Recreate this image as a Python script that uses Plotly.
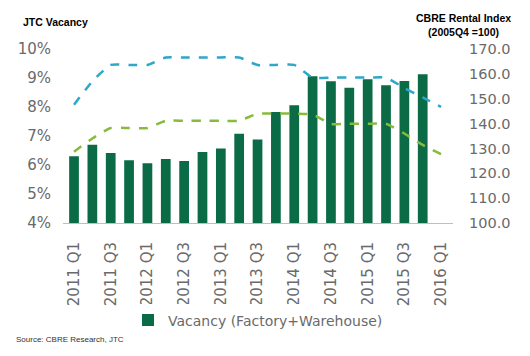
import plotly.graph_objects as go

quarters = ["2011 Q1","2011 Q2","2011 Q3","2011 Q4","2012 Q1","2012 Q2","2012 Q3","2012 Q4",
            "2013 Q1","2013 Q2","2013 Q3","2013 Q4","2014 Q1","2014 Q2","2014 Q3","2014 Q4",
            "2015 Q1","2015 Q2","2015 Q3","2015 Q4","2016 Q1"]
vacancy = [6.30, 6.70, 6.41, 6.16, 6.06, 6.21, 6.14, 6.45, 6.57, 7.08, 6.88,
           7.83, 8.06, 9.06, 8.89, 8.66, 8.96, 8.75, 8.90, 9.13]
rent_blue = [147.6, 157.0, 163.6, 163.6, 163.6, 166.6, 166.6, 166.6, 166.6, 166.6, 163.6,
             163.6, 163.6, 158.5, 158.5, 158.5, 158.5, 158.5, 154.3, 150.5, 146.7]
rent_green = [128.7, 134.0, 138.2, 138.2, 138.2, 141.1, 141.1, 141.1, 141.1, 141.1, 144.0,
              144.0, 144.0, 143.6, 139.9, 139.9, 139.9, 139.9, 136.0, 131.4, 127.7]

tick_idx = list(range(0, len(quarters), 2))
tick_text = [quarters[i] for i in tick_idx]
xi = list(range(len(quarters)))

FONT = "DejaVu Sans"
TFONT = "Liberation Sans"
GREY = "#6a6a6a"

# page body has an 8px default margin; size the figure to the visible area
O = 8
W, H = 530 - O, 356 - O
# plot area edges in window pixels
X0, X1, Y0, Y1 = 63, 453, 49, 222.7
L, R, T, B = X0 - O, W - (X1 - O), Y0 - O, H - (Y1 - O)
pw = W - L - R
ph = H - T - B
def px(x):
    return (x - X0) / pw
def py(y):
    return (Y1 - y) / ph

fig = go.Figure()
fig.add_trace(go.Bar(x=xi[:len(vacancy)], y=vacancy, name="Vacancy (Factory+Warehouse)",
                     marker=dict(color="#0b6b47", line=dict(width=0)), width=0.53))
fig.add_trace(go.Scatter(x=xi, y=rent_blue, yaxis="y2", mode="lines", showlegend=False,
                         line=dict(color="#2ea7c9", width=2.5, dash="dash", shape="spline", smoothing=0.5)))
fig.add_trace(go.Scatter(x=xi, y=rent_green, yaxis="y2", mode="lines", showlegend=False,
                         line=dict(color="#86bb3c", width=2.5, dash="dash", shape="spline", smoothing=0.5)))

fig.update_layout(
    width=W, height=H,
    margin=dict(l=L, r=R, t=T, b=B, autoexpand=False),
    paper_bgcolor="white", plot_bgcolor="white",
    font=dict(family=FONT, color=GREY),
    xaxis=dict(range=[-0.6, 20.65], tickmode="array", tickvals=tick_idx, ticktext=tick_text,
               tickangle=-90, tickfont=dict(size=15, color=GREY), showgrid=False,
               showline=True, linecolor="#bfbfbf", linewidth=1, ticks="", zeroline=False,
               ticklabelstandoff=12),
    yaxis=dict(range=[4, 10], dtick=1, ticksuffix="%", tickfont=dict(size=15, color=GREY),
               showgrid=False, zeroline=False, showline=False, ticks="", ticklabelstandoff=11),
    yaxis2=dict(range=[100, 170], dtick=10, tickformat=".1f", overlaying="y", side="right",
                tickfont=dict(size=14.5, color=GREY), showgrid=False, zeroline=False, ticks="",
                ticklabelstandoff=15),
    legend=dict(orientation="h", x=px(128), xanchor="left", y=py(320), yanchor="middle",
                font=dict(size=14, color=GREY), itemwidth=30),
    bargap=0.47,
    annotations=[
        dict(text="<b>JTC Vacancy</b>", x=px(21), y=py(22), xref="paper", yref="paper", showarrow=False,
             font=dict(size=10.5, color="black", family=TFONT), xanchor="left", yanchor="middle"),
        dict(text="<b>CBRE Rental Index<br>(2005Q4 =100)</b>", x=px(464), y=py(25), xref="paper", yref="paper",
             showarrow=False, font=dict(size=10.5, color="black", family=TFONT),
             xanchor="center", yanchor="middle"),
        dict(text="Source: CBRE Research, JTC", x=px(14), y=py(339), xref="paper", yref="paper",
             showarrow=False, font=dict(size=8, color="#333333", family=TFONT),
             xanchor="left", yanchor="middle"),
    ],
)

fig.write_html("out.html")
